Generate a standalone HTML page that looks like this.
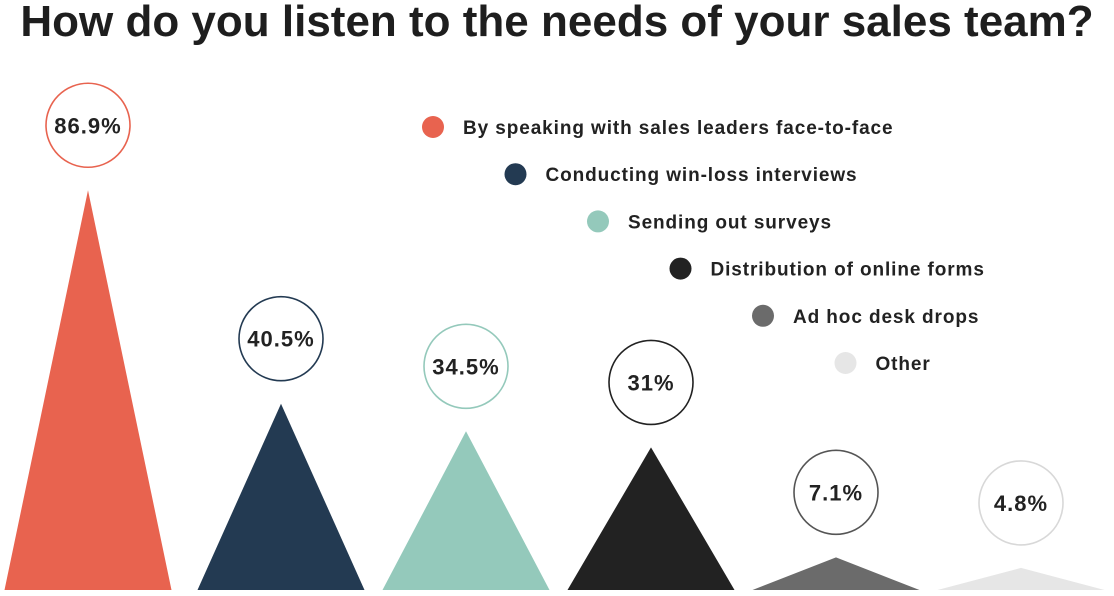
<!DOCTYPE html>
<html><head><meta charset="utf-8">
<style>
html,body{margin:0;padding:0;background:#fff;}
body{width:1114px;height:596px;overflow:hidden;font-family:"Liberation Sans",sans-serif;}
#title{position:absolute;left:0;top:-3px;width:1114px;text-align:center;font-size:44px;font-weight:bold;color:#1e1e1e;letter-spacing:0px;white-space:nowrap;}
svg{position:absolute;left:0;top:0;}
</style></head>
<body>
<div id="title">How do you listen to the needs of your sales team?</div>
<svg id="chart" width="1114" height="596"></svg>
<script>
const categories=["By speaking with sales leaders face-to-face","Conducting win-loss interviews","Sending out surveys","Distribution of online forms","Ad hoc desk drops","Other"];
const values=[86.9,40.5,34.5,31,7.1,4.8];
const valueLabels=["86.9%","40.5%","34.5%","31%","7.1%","4.8%"];
const colors=["#E8634F","#233A52","#94C9BB","#222222","#6b6b6b","#e6e6e6"];
const strokes=["#E8634F","#233A52","#94C9BB","#222222","#555555","#d8d8d8"];
const NS="http://www.w3.org/2000/svg";
const svg=document.getElementById('chart');
const baseY=590, scale=4.6, halfW=83.5;
function xC(i){return i===0?88:281+(i-1)*185;}
function yV(v){return baseY-v*scale;}
function mk(t,a){const e=document.createElementNS(NS,t);for(const k in a)e.setAttribute(k,a[k]);svg.appendChild(e);return e;}
values.forEach((v,i)=>{
  const cx=xC(i), top=yV(v);
  const tri=mk('polygon',{points:`${cx-halfW},${baseY} ${cx},${top} ${cx+halfW},${baseY}`,fill:colors[i]});
  
  
  const cy=top-65;
  const c=mk('circle',{cx:cx,cy:cy,r:42,fill:'#fff',stroke:strokes[i],'stroke-width':1.6});
  
  
  const t=mk('text',{x:cx,y:cy+8,'text-anchor':'middle','font-size':22,'font-weight':'bold','letter-spacing':1,fill:'#222','font-family':'Liberation Sans, sans-serif'});
  t.textContent=valueLabels[i];
  
  
  const lx=433+i*82.5, ly=127+i*47.2;
  const d=mk('circle',{cx:lx,cy:ly,r:11,fill:colors[i]});
  
  
  const lt=mk('text',{x:lx+30,y:ly+7,'font-size':19,'font-weight':'bold','letter-spacing':0.9,fill:'#222','font-family':'Liberation Sans, sans-serif'});
  lt.textContent=categories[i];
  
  
});
</script>
</body></html>
